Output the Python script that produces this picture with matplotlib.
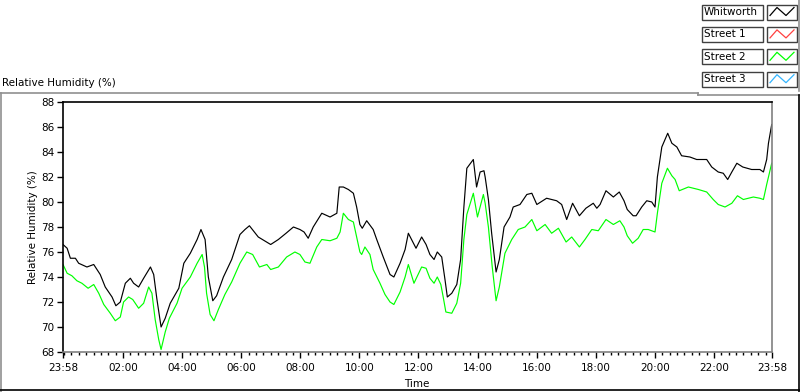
import matplotlib
matplotlib.use("Agg")
import matplotlib.pyplot as plt
from matplotlib.lines import Line2D
from matplotlib.patches import Rectangle
import numpy as np

# hours since 23:58, relative humidity (%)
whitworth_h = [0.00, 0.14, 0.25, 0.42, 0.53, 0.81, 1.04, 1.26, 1.43, 1.66, 1.79, 1.94,
               2.11, 2.28, 2.39, 2.56, 2.73, 2.96, 3.07, 3.18, 3.32, 3.46, 3.63, 3.92,
               4.09, 4.31, 4.54, 4.67, 4.81, 4.92, 5.07, 5.20, 5.43, 5.71, 5.99, 6.16,
               6.31, 6.61, 7.03, 7.29, 7.55, 7.80, 8.02, 8.16, 8.30, 8.47, 8.76, 9.04,
               9.27, 9.35, 9.49, 9.66, 9.83, 9.94, 10.05, 10.13, 10.28, 10.50, 10.62, 10.84,
               11.07, 11.20, 11.41, 11.58, 11.69, 11.80, 11.95, 12.14, 12.29, 12.42, 12.56, 12.67,
               12.82, 12.93, 13.01, 13.16, 13.33, 13.46, 13.57, 13.67, 13.89, 14.00, 14.12, 14.25,
               14.29, 14.40, 14.51, 14.66, 14.77, 14.93, 15.13, 15.24, 15.47, 15.70, 15.87, 16.04,
               16.37, 16.71, 16.88, 17.05, 17.25, 17.48, 17.70, 17.95, 18.07, 18.18, 18.38, 18.63,
               18.83, 18.99, 19.10, 19.30, 19.40, 19.59, 19.76, 19.93, 20.04, 20.12, 20.27, 20.47,
               20.61, 20.78, 20.94, 21.22, 21.45, 21.79, 21.96, 22.18, 22.35, 22.50, 22.64, 22.81,
               23.01, 23.31, 23.59, 23.71, 23.82, 23.88, 23.99]
whitworth_rh = [76.6, 76.3, 75.5, 75.5, 75.1, 74.8, 75.0, 74.2, 73.2, 72.4, 71.7, 72.0,
                73.5, 73.9, 73.5, 73.2, 73.9, 74.8, 74.2, 72.2, 70.0, 70.7, 71.9, 73.1,
                75.1, 75.9, 77.0, 77.8, 77.0, 74.0, 72.1, 72.5, 74.0, 75.4, 77.4, 77.8,
                78.1, 77.2, 76.6, 77.0, 77.5, 78.0, 77.8, 77.6, 77.1, 78.0, 79.1, 78.8,
                79.1, 81.2, 81.2, 81.0, 80.7, 79.6, 78.2, 77.9, 78.5, 77.8, 77.0, 75.6,
                74.2, 74.0, 75.1, 76.2, 77.5, 77.0, 76.3, 77.2, 76.6, 75.8, 75.4, 76.0,
                75.6, 73.8, 72.4, 72.7, 73.4, 75.4, 79.6, 82.7, 83.4, 81.2, 82.4, 82.5,
                82.0, 80.2, 77.5, 74.4, 75.4, 78.0, 78.8, 79.6, 79.8, 80.6, 80.7, 79.8,
                80.3, 80.1, 79.8, 78.6, 79.9, 78.9, 79.5, 79.9, 79.5, 79.8, 80.9, 80.4,
                80.8, 80.1, 79.4, 78.9, 78.9, 79.6, 80.1, 80.0, 79.6, 82.0, 84.4, 85.5,
                84.7, 84.4, 83.7, 83.6, 83.4, 83.4, 82.8, 82.4, 82.3, 81.8, 82.4, 83.1,
                82.8, 82.6, 82.6, 82.4, 83.4, 84.7, 86.2]

street2_h = [0.00, 0.14, 0.30, 0.47, 0.64, 0.85, 1.04, 1.21, 1.38, 1.60, 1.77, 1.94,
             2.05, 2.22, 2.36, 2.56, 2.73, 2.90, 3.01, 3.12, 3.24, 3.32, 3.46, 3.60,
             3.86, 4.03, 4.31, 4.54, 4.71, 4.79, 4.86, 4.98, 5.11, 5.26, 5.48, 5.71,
             5.99, 6.22, 6.42, 6.65, 6.90, 7.03, 7.29, 7.57, 7.85, 8.02, 8.19, 8.36,
             8.59, 8.76, 9.04, 9.27, 9.38, 9.49, 9.66, 9.83, 9.94, 10.05, 10.11, 10.22,
             10.39, 10.50, 10.73, 10.90, 11.07, 11.20, 11.41, 11.58, 11.69, 11.88, 12.14, 12.29,
             12.42, 12.56, 12.67, 12.79, 12.87, 12.96, 13.16, 13.33, 13.46, 13.57, 13.67, 13.89,
             14.03, 14.23, 14.29, 14.40, 14.53, 14.66, 14.77, 14.96, 15.19, 15.41, 15.64, 15.87,
             16.04, 16.32, 16.54, 16.77, 17.03, 17.22, 17.48, 17.67, 17.90, 18.12, 18.38, 18.63,
             18.85, 18.99, 19.10, 19.28, 19.47, 19.64, 19.81, 20.04, 20.12, 20.27, 20.46, 20.61,
             20.72, 20.86, 21.17, 21.51, 21.79, 22.01, 22.18, 22.41, 22.64, 22.83, 23.03, 23.37,
             23.59, 23.71, 23.82, 23.99]
street2_rh = [75.0, 74.3, 74.1, 73.7, 73.5, 73.1, 73.4, 72.7, 71.8, 71.1, 70.5, 70.8,
              72.0, 72.4, 72.2, 71.5, 71.9, 73.2, 72.7, 70.6, 69.0, 68.2, 69.6, 70.7,
              71.9, 73.1, 74.0, 75.1, 75.8, 74.8, 72.7, 71.0, 70.5, 71.4, 72.6, 73.6,
              75.1, 76.0, 75.8, 74.8, 75.0, 74.6, 74.8, 75.6, 76.0, 75.8, 75.2, 75.1,
              76.4, 77.0, 76.9, 77.1, 77.6, 79.1, 78.6, 78.4, 77.2, 76.0, 75.8, 76.4,
              75.8, 74.6, 73.5, 72.6, 72.0, 71.8, 72.8, 74.0, 75.0, 73.5, 74.8, 74.7,
              73.9, 73.5, 74.0, 73.4, 72.4, 71.2, 71.1, 71.9, 73.5, 77.0, 79.0, 80.7,
              78.8, 80.6, 79.9, 78.0, 74.8, 72.1, 73.2, 75.9, 77.0, 77.8, 78.0, 78.6,
              77.7, 78.2, 77.5, 77.9, 76.8, 77.2, 76.4, 77.0, 77.8, 77.7, 78.6, 78.2,
              78.5, 78.0, 77.3, 76.7, 77.1, 77.8, 77.8, 77.6, 79.1, 81.5, 82.7, 82.1,
              81.8, 80.9, 81.2, 81.0, 80.8, 80.2, 79.8, 79.6, 79.9, 80.5, 80.2, 80.4,
              80.3, 80.2, 81.4, 83.1]

street1_h, street1_rh = [], []
street3_h, street3_rh = [], []

series_names = ["Whitworth", "Street 1", "Street 2", "Street 3"]
series_colors = ["black", "#ff4040", "#00ff00", "#33b5ff"]
time_labels = ["23:58", "02:00", "04:00", "06:00", "08:00", "10:00", "12:00",
               "14:00", "16:00", "18:00", "20:00", "22:00", "23:58"]

W, H = 800, 392


def fx(x):
    return x / W


def fy(y):
    return 1 - y / H


plt.rcParams["font.family"] = "DejaVu Sans"
fig = plt.figure(figsize=(8, 3.92), dpi=100)
fig.patch.set_facecolor("white")

ax = fig.add_axes([fx(63), fy(352), fx(772) - fx(63), fy(102) - fy(352)])
ax.plot(whitworth_h, whitworth_rh, color=series_colors[0], lw=0.85)
ax.plot(street1_h, street1_rh, color=series_colors[1], lw=0.85)
ax.plot(street2_h, street2_rh, color=series_colors[2], lw=0.85)
ax.plot(street3_h, street3_rh, color=series_colors[3], lw=0.85)

ax.set_xlim(0, 24)
ax.set_ylim(68, 88)

# tick positions from the clock labels (start = 23:58)
major = []
for i, lab in enumerate(time_labels):
    hh, mm = lab.split(":")
    off = (int(hh) * 60 + int(mm) - (23 * 60 + 58)) % (24 * 60) / 60
    if i == len(time_labels) - 1:
        off = 24
    major.append(off)
ax.set_xticks(major)
ax.set_xticklabels(time_labels)
ax.set_xticks(np.arange(2 / 60, 24, 0.25), minor=True)
ax.set_yticks(np.arange(68, 89, 2))

ax.tick_params(axis="both", which="major", direction="out", length=4, width=1,
               labelsize=7.5, color="black")
ax.tick_params(axis="x", which="major", pad=4)
ax.tick_params(axis="x", which="minor", direction="out", length=2.5, width=1, color="black")
ax.tick_params(axis="y", which="major", pad=2)

for side in ["left", "top"]:
    ax.spines[side].set_color("black")
for side in ["right", "bottom"]:
    ax.spines[side].set_color("#808080")
for s in ax.spines.values():
    s.set_linewidth(1.2)

fig.text(fx(33), fy(227), "Relative Humidity (%)", rotation=90, ha="center",
         va="center", fontsize=7.5)
fig.text(fx(417), fy(384), "Time", ha="center", va="center", fontsize=7.5)
fig.text(fx(2), fy(83), "Relative Humidity (%)", ha="left", va="center", fontsize=7.5)

# window frame
gray = "#909090"
frame = [
    ([0, 698], [92.5, 92.5], gray),
    ([698, 698], [92.5, 95], gray),
    ([698, 800], [95, 95], gray),
    ([1, 1], [92.5, 392], gray),
    ([0, 800], [390, 390], "black"),
    ([798.5, 798.5], [95, 392], "black"),
    ([798.5, 798.5], [0, 91], gray),
]
for xs, ys, c in frame:
    fig.add_artist(Line2D([fx(v) for v in xs], [fy(v) for v in ys], color=c,
                          lw=1.2, transform=fig.transFigure))

# legend boxes
for i, (name, col) in enumerate(zip(series_names, series_colors)):
    top = 4.5 + i * 22.4
    bot = top + 15
    fig.add_artist(Rectangle((fx(702), fy(bot)), fx(763) - fx(702), fy(top) - fy(bot),
                             facecolor="white", edgecolor="#404040", lw=1.0,
                             transform=fig.transFigure))
    fig.add_artist(Rectangle((fx(767), fy(bot)), fx(797) - fx(767), fy(top) - fy(bot),
                             facecolor="white", edgecolor="#404040", lw=1.0,
                             transform=fig.transFigure))
    fig.text(fx(704), fy((top + bot) / 2), name, ha="left", va="center", fontsize=7.5)
    zx = [770, 777, 786, 794]
    zy = [bot - 4, top + 3, bot - 4, top + 3]
    fig.add_artist(Line2D([fx(v) for v in zx], [fy(v) for v in zy], color=col,
                          lw=0.9, transform=fig.transFigure))

fig.savefig("out.png", dpi=100, facecolor="white")
